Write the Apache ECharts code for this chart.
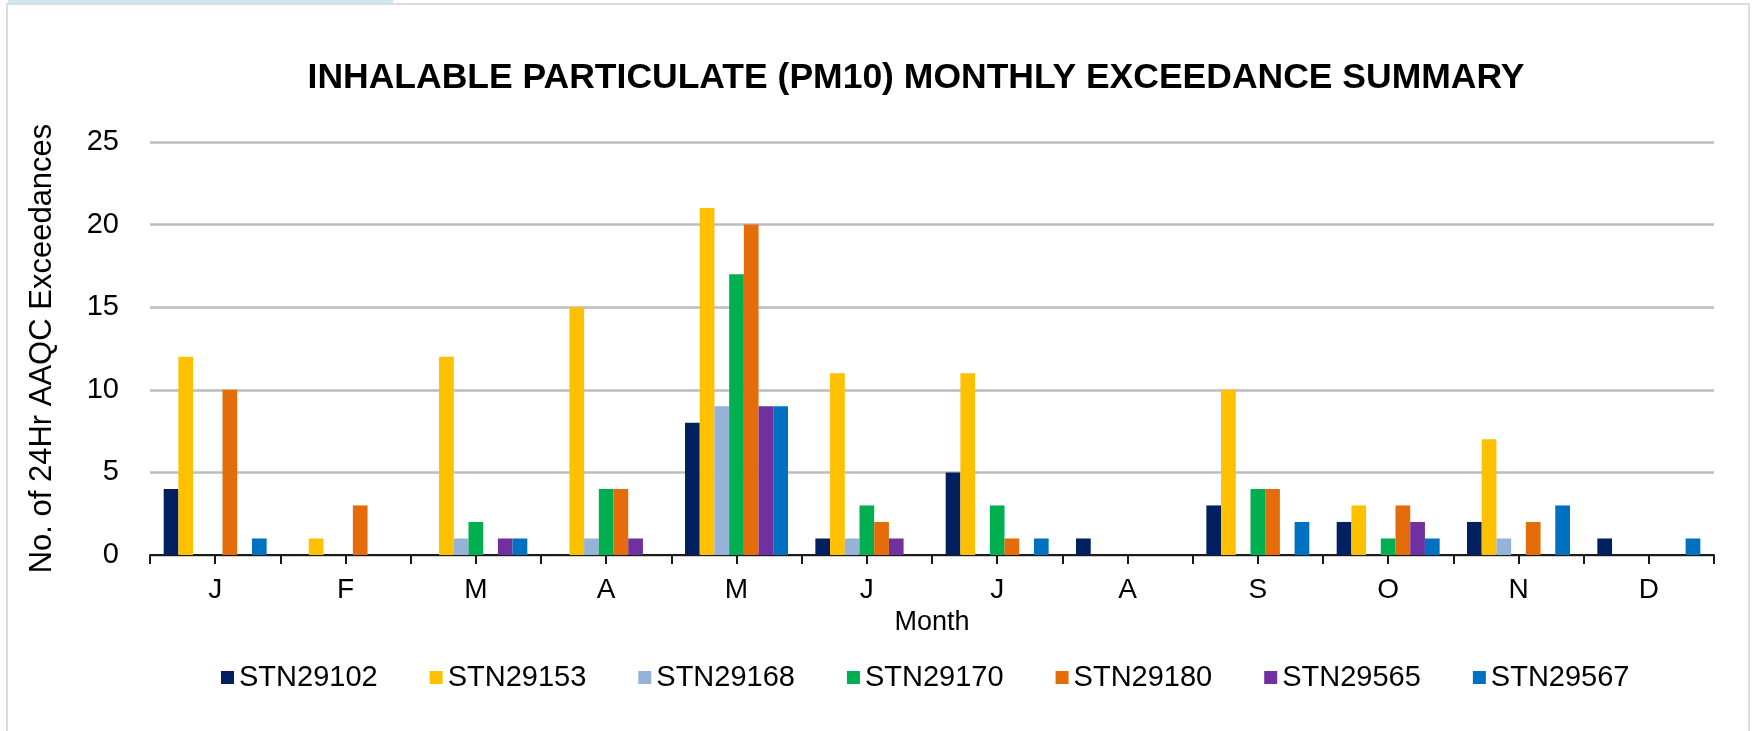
<!DOCTYPE html>
<html>
<head>
<meta charset="utf-8">
<script src="https://cdn.jsdelivr.net/npm/echarts@6/dist/echarts.min.js"></script>
<style>
  html, body { margin: 0; padding: 0; background: #ffffff; width: 1758px; height: 731px; overflow: hidden; }
  #tab { position: absolute; left: 8px; top: 0; width: 385px; height: 4px; background: #cfe5f4; }
  #frame { position: absolute; left: 6px; top: 3px; width: 1744px; height: 800px; border: 2px solid #dcdcdc; box-sizing: border-box; }
  #chart { position: absolute; left: 0; top: 0; width: 1758px; height: 731px; }
</style>
</head>
<body>
<div id="tab"></div>
<div id="frame"></div>
<div id="chart"></div>
<script>
// ---- data ----
const months = ['J', 'F', 'M', 'A', 'M', 'J', 'J', 'A', 'S', 'O', 'N', 'D'];
const yTicks = [0, 5, 10, 15, 20, 25];
const stations = ['STN29102', 'STN29153', 'STN29168', 'STN29170', 'STN29180', 'STN29565', 'STN29567'];
const STN29102 = [4, 0, 0, 0, 8, 1, 5, 1, 3, 2, 2, 1];
const STN29153 = [12, 1, 12, 15, 21, 11, 11, 0, 10, 3, 7, 0];
const STN29168 = [0, 0, 1, 1, 9, 1, 0, 0, 0, 0, 1, 0];
const STN29170 = [0, 0, 2, 4, 17, 3, 3, 0, 4, 1, 0, 0];
const STN29180 = [10, 3, 0, 4, 20, 2, 1, 0, 4, 3, 2, 0];
const STN29565 = [0, 0, 1, 1, 9, 1, 0, 0, 0, 2, 0, 0];
const STN29567 = [1, 0, 1, 0, 9, 0, 1, 0, 2, 1, 3, 1];
const seriesValues = [STN29102, STN29153, STN29168, STN29170, STN29180, STN29565, STN29567];
const colors = ['#002060', '#FFC000', '#95B3D7', '#00B050', '#E46C0A', '#7030A0', '#0070C0'];

// half-category slots used only to draw tick marks at category centres and boundaries
const tickSlots = months.flatMap(() => ['', '']);

const FONT = "'Liberation Sans', Arial, sans-serif";

const chart = echarts.init(document.getElementById('chart'), null, { renderer: 'canvas' });
chart.setOption({
  backgroundColor: 'transparent',
  animation: false,
  textStyle: { fontFamily: FONT, color: '#000' },
  title: {
    text: 'INHALABLE PARTICULATE (PM10) MONTHLY EXCEEDANCE SUMMARY',
    left: 916, top: 60, textAlign: 'center', padding: 0,
    textStyle: { fontFamily: FONT, fontWeight: 'bold', fontSize: 35.5, color: '#000' }
  },
  legend: {
    data: stations,
    left: 216, top: 658,
    itemWidth: 13, itemHeight: 13, itemGap: 52,
    icon: 'rect',
    textStyle: { fontFamily: FONT, fontSize: 29, color: '#000' }
  },
  grid: { left: 150, right: 44, top: 142, bottom: 176, containLabel: false },
  xAxis: [
    {
      type: 'category', data: months, position: 'bottom',
      name: 'Month', nameLocation: 'middle', nameGap: 51,
      nameTextStyle: { fontFamily: FONT, fontSize: 27, color: '#000' },
      axisLine: { show: true, lineStyle: { color: '#1a1a1a', width: 2 } },
      axisTick: { show: false },
      axisLabel: { fontFamily: FONT, fontSize: 28, color: '#000', margin: 21 },
      splitLine: { show: false }
    },
    {
      type: 'category', data: tickSlots, position: 'bottom', gridIndex: 0,
      boundaryGap: true,
      axisLine: { show: false },
      axisTick: { show: true, length: 9, lineStyle: { color: '#1a1a1a', width: 2 } },
      axisLabel: { show: false },
      splitLine: { show: false }
    }
  ],
  yAxis: {
    type: 'value', min: yTicks[0], max: yTicks[yTicks.length - 1], interval: yTicks[1] - yTicks[0],
    name: 'No. of 24Hr AAQC Exceedances', nameLocation: 'middle', nameRotate: 90, nameGap: 92,
    nameTextStyle: { fontFamily: FONT, fontSize: 31, color: '#000' },
    axisLine: { show: false },
    axisTick: { show: false },
    axisLabel: { fontFamily: FONT, fontSize: 29, color: '#000', margin: 31 },
    splitLine: { show: true, lineStyle: { color: '#bdbdbd', width: 2.5 } }
  },
  series: stations.map((name, i) => ({
    name: name,
    type: 'bar',
    xAxisIndex: 0,
    data: seriesValues[i],
    barGap: '0%',
    barCategoryGap: '21%',
    itemStyle: { color: colors[i] }
  }))
});
</script>
</body>
</html>
